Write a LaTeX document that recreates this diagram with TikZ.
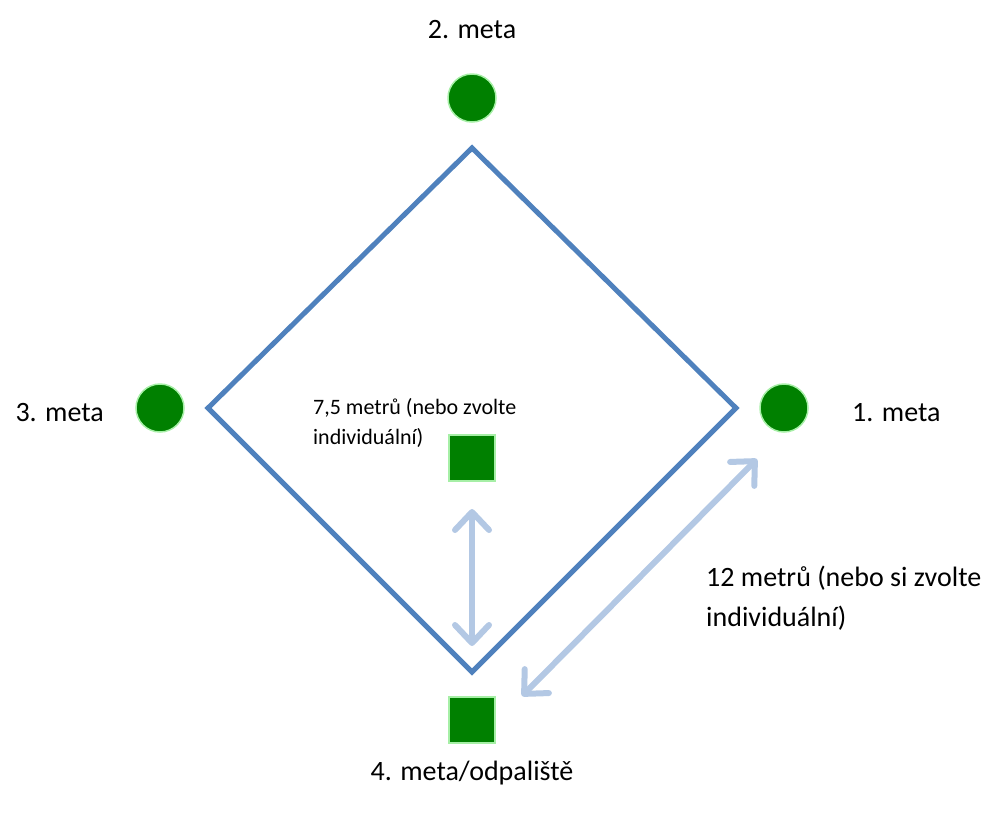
\documentclass[tikz,border=0pt]{standalone}
\usepackage{fontspec}
\setmainfont{Carlito}
\usetikzlibrary{arrows.meta}
\definecolor{diam}{HTML}{4F81BD}
\definecolor{arr}{HTML}{B3C8E4}
\definecolor{base}{HTML}{008000}
\definecolor{baseedge}{HTML}{A6EFA6}
\begin{document}
\begin{tikzpicture}[x=1pt,y=-1pt,
  basecirc/.style={circle,fill=base,draw=baseedge,line width=1.5pt,minimum size=48pt,inner sep=0pt},
  basesq/.style={rectangle,fill=base,draw=baseedge,line width=1.5pt,minimum size=46pt,inner sep=0pt},
  bigtxt/.style={font=\fontsize{28}{40}\selectfont,inner sep=0pt},
  smalltxt/.style={font=\fontsize{22}{30}\selectfont,inner sep=0pt},
  dimarrow/.style={draw=arr,line width=6pt,line cap=round,{Straight Barb[length=18pt,width=34pt,round]}-{Straight Barb[length=18pt,width=34pt,round]}},
  diamline/.style={draw=diam,line width=5pt}]
\useasboundingbox (0,0) rectangle (998,812);
% diamond
\coordinate (dT) at (472,148);
\coordinate (dL) at (208,408);
\coordinate (dR) at (736,408);
\coordinate (dB) at (472,672);
\draw[diamline] (dT) -- (dR) -- (dB) -- (dL) -- cycle;
% bases
\node[basecirc] (b2) at (472,98) {};
\node[basecirc] (b3) at (160,408) {};
\node[basecirc] (b1) at (784,408) {};
\node[basesq] (pit) at (472,458) {};
\node[basesq] (home) at (472,720) {};
% labels
\node[bigtxt] (l2) at (472,30) {2. meta};
\node[bigtxt,anchor=east] (l3) at (104,413) {3. meta};
\node[bigtxt,anchor=west] (l1) at (852,413) {1. meta};
\node[bigtxt] (l4) at (472,773) {4. meta/odpaliště};
\node[smalltxt,anchor=north west,align=left] (t75) at (313,398) {7,5 metrů (nebo zvolte\\individuální)};
\node[bigtxt,anchor=north west,align=left] (t12) at (706,566) {12 metrů (nebo si zvolte\\individuální)};
% dimension arrows
\coordinate (vA) at (472,509);
\coordinate (vB) at (472,646);
\coordinate (dA) at (757,459);
\coordinate (dB2) at (522,696);
\draw[dimarrow] (vA) -- (vB);
\draw[dimarrow] (dA) -- (dB2);
\end{tikzpicture}
\end{document}
